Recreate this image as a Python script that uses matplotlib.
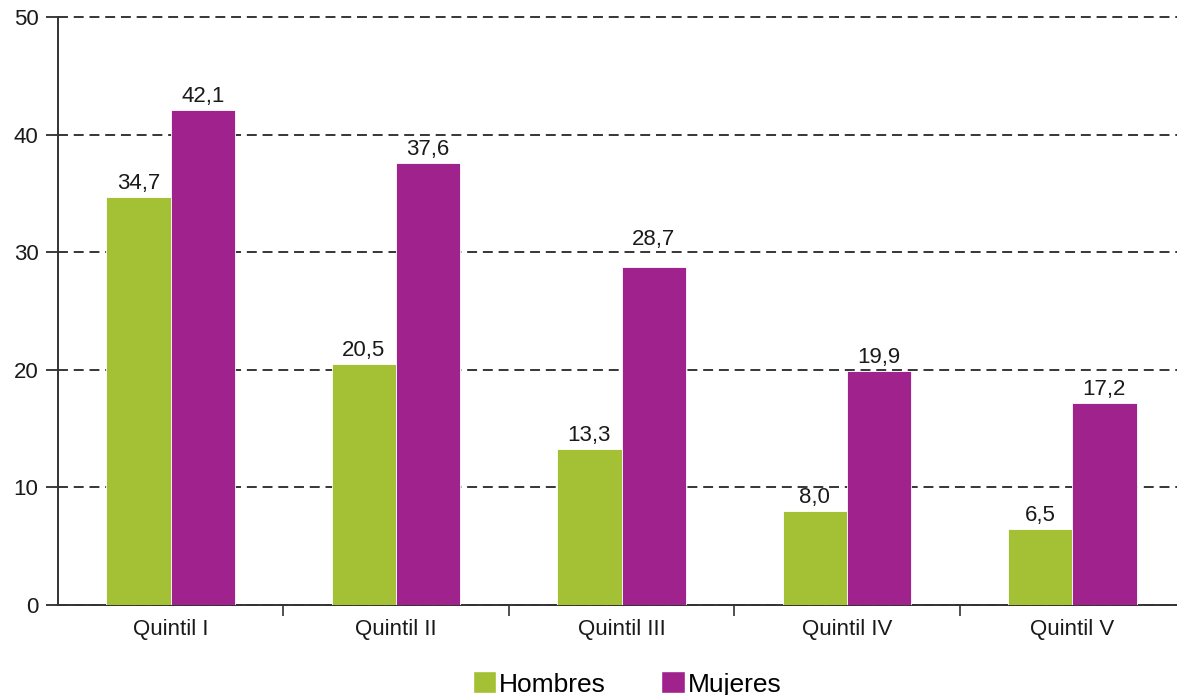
import numpy as np
import matplotlib
matplotlib.use("Agg")
import matplotlib.pyplot as plt
from matplotlib.patches import Patch

categories = ["Quintil I", "Quintil II", "Quintil III", "Quintil IV", "Quintil V"]
hombres = [34.7, 20.5, 13.3, 8.0, 6.5]
mujeres = [42.1, 37.6, 28.7, 19.9, 17.2]

green = "#a4c034"
purple = "#a0228c"

plt.rcParams["font.family"] = ["Liberation Sans", "DejaVu Sans"]

fig = plt.figure(figsize=(11.77, 6.95), dpi=100)
# axes runs slightly past the right edge, like the original
ax = fig.add_axes([58 / 1177, 1 - 605 / 695, 1127 / 1177, 588 / 695])

x = np.arange(len(categories))
w = 0.285
b1 = ax.bar(x - w / 2, hombres, w, color=green, edgecolor="white", linewidth=0.6, zorder=3)
b2 = ax.bar(x + w / 2, mujeres, w, color=purple, edgecolor="white", linewidth=0.6, zorder=3)

def fmt(v):
    return f"{v:.1f}".replace(".", ",")

# in the original the Quintil III (Mujeres) label sits above the 30 gridline
nudge = {("m", 2): 1.25}

for key, bars, vals in [("h", b1, hombres), ("m", b2, mujeres)]:
    for i, (rect, v) in enumerate(zip(bars, vals)):
        y = v + 1.15 + nudge.get((key, i), 0)
        ax.text(rect.get_x() + rect.get_width() / 2, y, fmt(v),
                ha="center", va="center", fontsize=16, color="#1a1a1a", zorder=4)

ax.set_xlim(-0.5, len(categories) - 0.5)
ax.set_ylim(0, 50)
ax.set_yticks(range(0, 51, 10))
ax.tick_params(axis="y", labelsize=16, length=9, width=1.2, direction="out", pad=5, colors="#1a1a1a")
ax.yaxis.grid(True, linestyle=(0, (6.5, 3.8)), color="black", linewidth=1.1, zorder=1)
for gl in ax.get_ygridlines():
    gl.set_clip_on(False)

ax.set_xticks(x)
ax.set_xticklabels(categories, fontsize=16, color="#1a1a1a")
ax.tick_params(axis="x", length=0, pad=10)
ax.set_xticks(np.arange(0.5, len(categories) - 0.5), minor=True)
ax.tick_params(axis="x", which="minor", length=8, width=1.2, color="#333333")

for s in ["top", "right"]:
    ax.spines[s].set_visible(False)
for s in ["left", "bottom"]:
    ax.spines[s].set_color("#333333")
    ax.spines[s].set_linewidth(1.4)

handles = [Patch(facecolor=green, edgecolor="white"), Patch(facecolor=purple, edgecolor="white")]
fig.legend(handles, ["Hombres", "Mujeres"], loc="center", bbox_to_anchor=(627 / 1177, 1 - 684 / 695),
           ncol=2, frameon=False, fontsize=19, handlelength=0.9, handleheight=0.9,
           handletextpad=0.1, columnspacing=2.1)

fig.savefig("out.png", dpi=100)
